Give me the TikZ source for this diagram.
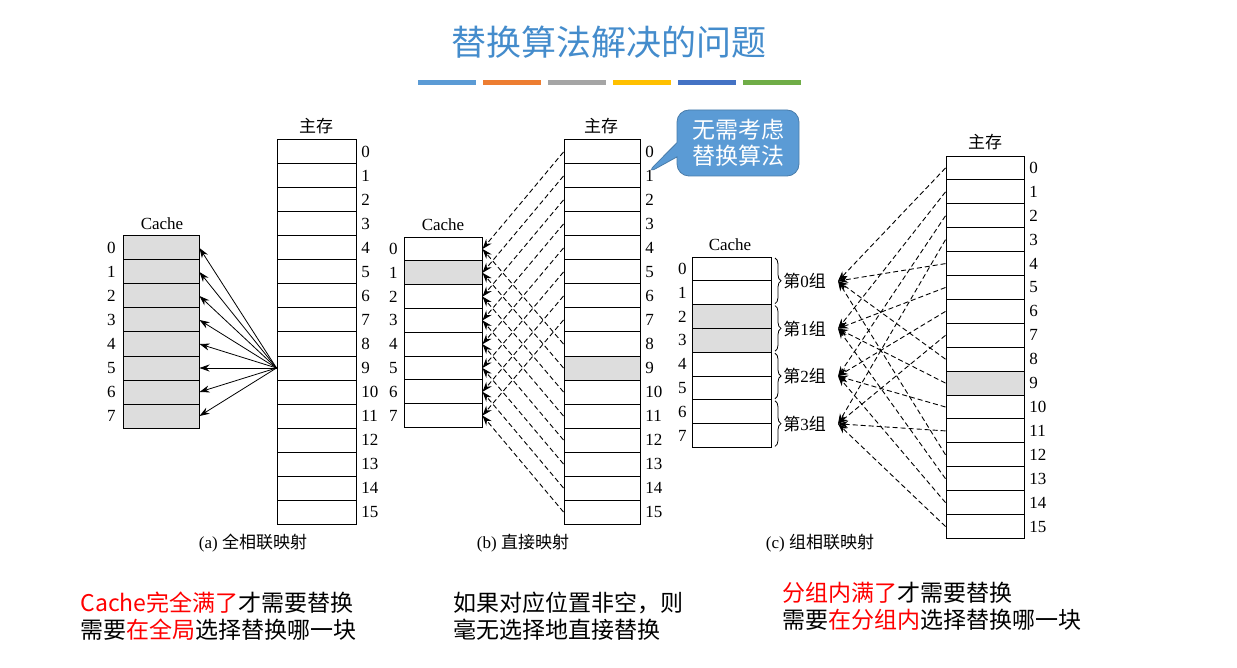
\documentclass[tikz,border=0pt]{standalone}
\usepackage{fontspec}
\setmainfont{Liberation Serif}
\newfontfamily\cjk{Noto Sans CJK SC}
\usetikzlibrary{arrows.meta,decorations.pathreplacing,shapes.callouts}
\definecolor{titleblue}{RGB}{68,140,204}
\definecolor{calloutblue}{RGB}{91,155,213}
\definecolor{cellgray}{RGB}{221,221,221}
\definecolor{barA}{RGB}{91,155,213}
\definecolor{barB}{RGB}{237,125,49}
\definecolor{barC}{RGB}{165,165,165}
\definecolor{barD}{RGB}{255,192,0}
\definecolor{barE}{RGB}{68,114,196}
\definecolor{barF}{RGB}{112,173,71}
\definecolor{hired}{RGB}{255,0,0}
\begin{document}
\begin{tikzpicture}[
    x=0.5pt, y=-0.5pt,
    cell/.style={draw, line width=0.5pt},
    num/.style={font=\fontsize{8.5}{10}\selectfont, anchor=west, inner sep=0pt},
    lbl/.style={font=\fontsize{8.5}{10}\selectfont\cjk, inner sep=0pt},
    solidarrow/.style={-{Stealth[length=5pt,width=3.5pt]}, line width=0.4pt},
    dasharrow/.style={-{Stealth[length=5pt,width=3.5pt]}, line width=0.45pt, dashed, dash pattern=on 2.5pt off 1.5pt},
    note/.style={font=\fontsize{11.5}{13}\selectfont\cjk, anchor=west, inner sep=0pt}
]
    \useasboundingbox (0,0) rectangle (1237,668);
    \fill[white] (0,0) rectangle (1237,668);

    % Title and bars
    \node[font=\fontsize{17.5}{20}\selectfont\cjk, text=titleblue] (title) at (609,42) {替换算法解决的问题};
    \foreach \c [count=\k from 0] in {barA,barB,barC,barD,barE,barF}
        \fill[\c] (418+65*\k,80) rectangle ++(58,5);

    % (a) fully associative
    \foreach \i in {0,...,15} {
        \node[cell, minimum width=39.5pt, minimum height=12pt, inner sep=0pt] (am\i) at (316.5,152+24*\i) {};
        \node[num] at (361,152+24*\i) {\i};
    }
    \node[lbl] (amlabel) at (316,126) {主存};
    \foreach \i in {0,...,7} {
        \node[cell, fill=cellgray, minimum width=38pt, minimum height=12pt, inner sep=0pt] (ac\i) at (161,248+24*\i) {};
        \node[num, anchor=east] at (116,248+24*\i) {\i};
        \draw[solidarrow] (am9.west) -- (ac\i.east);
    }
    \node[font=\fontsize{8.5}{10}\selectfont] (aclabel) at (162,224) {Cache};
    \node[lbl] (acap) at (253,543) {\rmfamily(a)~\cjk 全相联映射};

    % (b) direct mapped
    \foreach \i in {0,...,15} {
        \ifnum\i=9 \def\f{cellgray}\else\def\f{white}\fi
        \node[cell, fill=\f, minimum width=38pt, minimum height=12pt, inner sep=0pt] (bm\i) at (602,152+24*\i) {};
        \node[num] at (645,152+24*\i) {\i};
    }
    \node[lbl] (bmlabel) at (601,126) {主存};
    \foreach \i in {0,...,7} {
        \ifnum\i=1 \def\f{cellgray}\else\def\f{white}\fi
        \node[cell, fill=\f, minimum width=39pt, minimum height=11.9pt, inner sep=0pt] (bc\i) at (443,249+23.8*\i) {};
        \node[num, anchor=east] at (398,249+23.8*\i) {\i};
    }
    \foreach \i in {0,...,15} {
        \pgfmathtruncatemacro\r{mod(\i,8)}
        \draw[dasharrow] (bm\i.west) -- (bc\r.east);
    }
    \node[font=\fontsize{8.5}{10}\selectfont] (bclabel) at (443,225) {Cache};
    \node[lbl] (bcap) at (523,543) {\rmfamily(b)~\cjk 直接映射};

    % callout
    \node[rectangle callout, rounded corners=6pt, fill=calloutblue, draw=calloutblue!80!black,
        text=white, font=\fontsize{11.5}{13}\selectfont\cjk, align=center, minimum width=61pt, minimum height=33pt,
        callout absolute pointer={(646,174)}] (tip) at (738,143) {无需考虑\\替换算法};

    % (c) set associative
    \foreach \i in {0,...,15} {
        \ifnum\i=9 \def\f{cellgray}\else\def\f{white}\fi
        \node[cell, fill=\f, minimum width=39pt, minimum height=11.95pt, inner sep=0pt] (cm\i) at (985,168+23.9*\i) {};
        \node[num] at (1029,168+23.9*\i) {\i};
    }
    \node[lbl] (cmlabel) at (985,142) {主存};
    \foreach \i in {0,...,7} {
        \ifnum\i=2 \def\f{cellgray}\else\ifnum\i=3 \def\f{cellgray}\else\def\f{white}\fi\fi
        \node[cell, fill=\f, minimum width=39.5pt, minimum height=11.9pt, inner sep=0pt] (cc\i) at (731.5,269+23.8*\i) {};
        \node[num, anchor=east] at (687,269+23.8*\i) {\i};
    }
    \node[font=\fontsize{8.5}{10}\selectfont] (cclabel) at (730,245) {Cache};
    \foreach \g in {0,...,3} {
        \draw[decorate, decoration={brace, amplitude=3pt}, line width=0.4pt]
            (775,258+47.6*\g) -- (775,256+47.6*\g+47.6);
        \node[lbl, anchor=west] (grp\g) at (783,281+47.6*\g) {第\rmfamily\g\cjk 组};
        \coordinate (gin\g) at (838,281+47.6*\g);
    }
    \foreach \i in {0,...,15} {
        \pgfmathtruncatemacro\r{mod(\i,4)}
        \draw[dasharrow] (cm\i.west) -- (gin\r);
    }
    \node[lbl] (ccap) at (820,543) {\rmfamily(c)~\cjk 组相联映射};

    % notes
    \node[note] (na1) at (80,603) {\textcolor{hired}{Cache完全满了}才需要替换};
    \node[note] (na2) at (80,630) {需要\textcolor{hired}{在全局}选择替换哪一块};
    \node[note] (nb1) at (453,603) {如果对应位置非空，则};
    \node[note] (nb2) at (453,630) {毫无选择地直接替换};
    \node[note] (nc1) at (782,593) {\textcolor{hired}{分组内满了}才需要替换};
    \node[note] (nc2) at (782,620) {需要\textcolor{hired}{在分组内}选择替换哪一块};
\end{tikzpicture}
\end{document}
